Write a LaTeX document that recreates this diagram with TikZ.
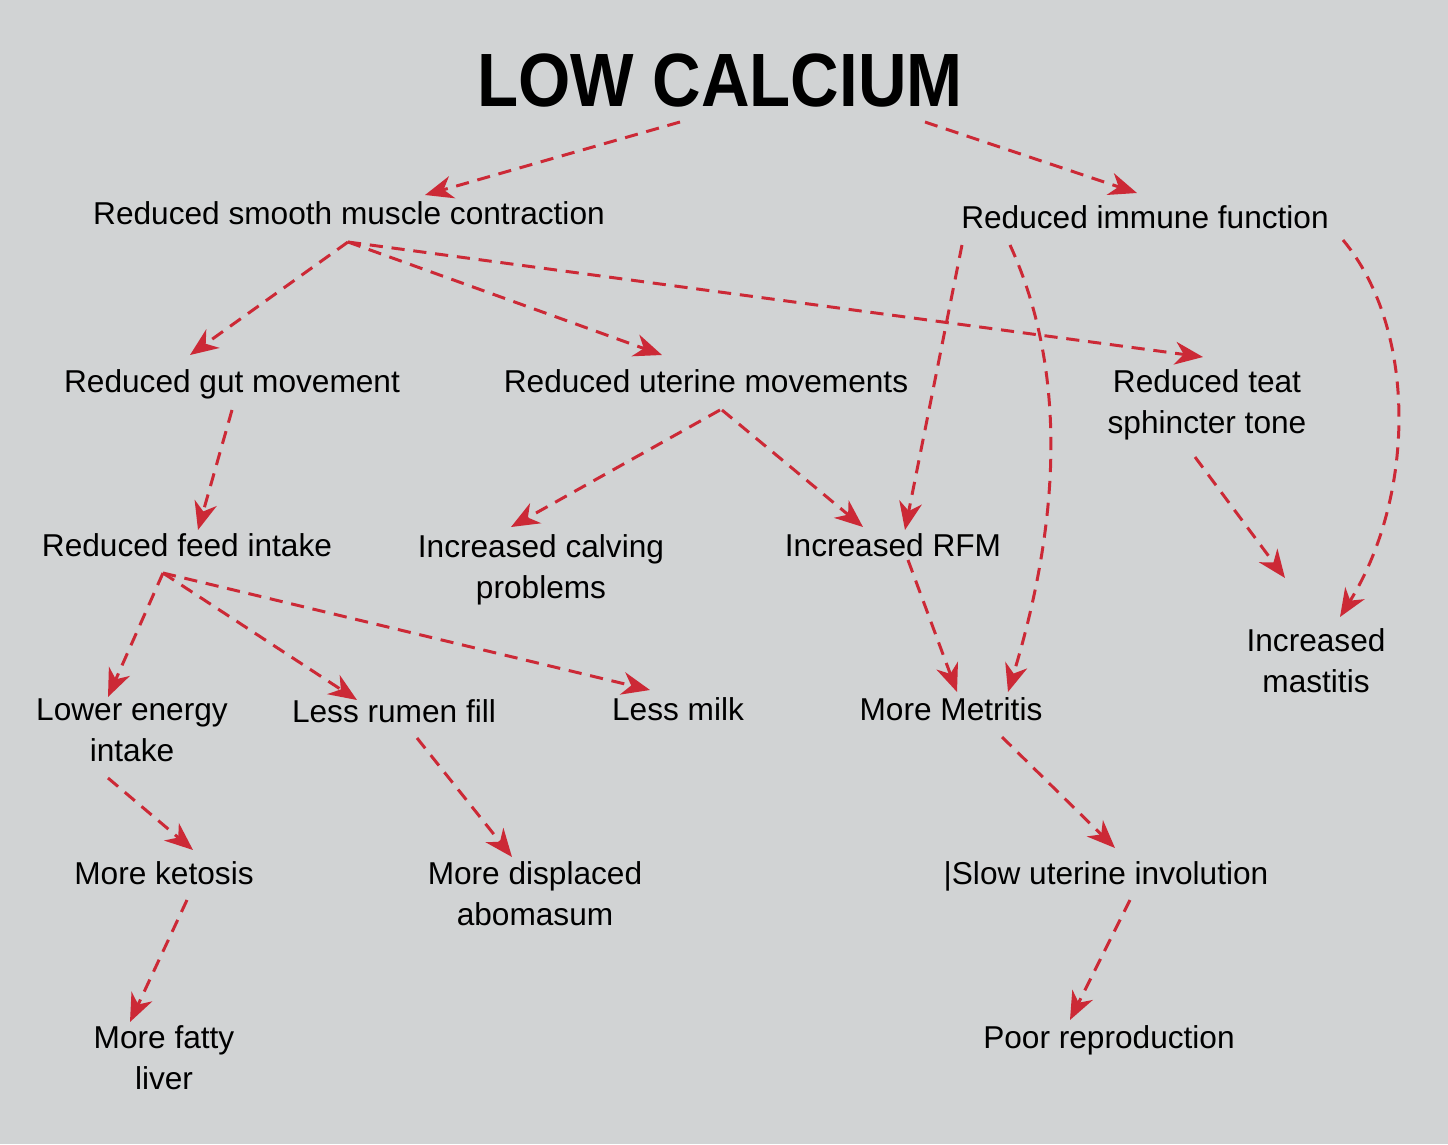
\documentclass[tikz,border=0pt]{standalone}
\usepackage{fontspec}
\setmainfont{Liberation Sans}
\usepackage{graphicx}
\usetikzlibrary{arrows.meta,calc}
\definecolor{bggray}{RGB}{209,211,212}
\definecolor{arrred}{RGB}{204,41,54}

\begin{document}
\begin{tikzpicture}[x=0.02cm,y=-0.02cm,
    lbl/.style={align=center,inner sep=0pt,font=\fontsize{18}{23.2}\selectfont,
      execute at begin node=\strut,execute at end node=\strut},
    arr/.style={-{Stealth[length=16pt,width=13pt,inset=5pt]},arrred,
      line width=1.7pt,dash pattern=on 7.5pt off 5pt}]
  \fill[bggray] (0,0) rectangle (1448,1144);
  \useasboundingbox (0,0) rectangle (1448,1144);
  % title and effects
  \node[inner sep=0pt] (title) at (720,80) {\scalebox{0.89}[1]{\fontsize{43}{50}\selectfont\bfseries LOW CALCIUM}};
  \node[lbl] (smooth) at (349,216) {Reduced smooth muscle contraction};
  \node[lbl] (immune) at (1145,220) {Reduced immune function};
  \node[lbl] (gut) at (232,384) {Reduced gut movement};
  \node[lbl] (uterine) at (706,384) {Reduced uterine movements};
  \node[lbl] (teat) at (1207,408) {Reduced teat\\sphincter tone};
  \node[lbl] (feed) at (187,548) {Reduced feed intake};
  \node[lbl] (calving) at (541,573) {Increased calving\\problems};
  \node[lbl] (rfm) at (893,548) {Increased RFM};
  \node[lbl] (mastitis) at (1316,667) {Increased\\mastitis};
  \node[lbl] (energy) at (132,736) {Lower energy\\intake};
  \node[lbl] (rumen) at (394,714) {Less rumen fill};
  \node[lbl] (milk) at (678,712) {Less milk};
  \node[lbl] (metritis) at (951,712) {More Metritis};
  \node[lbl] (ketosis) at (164,876) {More ketosis};
  \node[lbl] (displaced) at (535,900) {More displaced\\abomasum};
  \node[lbl] (involution) at (1106,876) {|Slow uterine involution};
  \node[lbl] (fatty) at (164,1064) {More fatty\\liver};
  \node[lbl] (poor) at (1109,1040) {Poor reproduction};
  % arrows
  \draw[arr] ($(title.center)+(-40,42)$) -- ($(smooth.center)+(76,-21)$);
  \draw[arr] ($(title.center)+(205,42)$) -- ($(immune.center)+(-8,-27)$);
  \draw[arr] ($(smooth.center)+(-1,26)$) -- ($(gut.center)+(-42,-29)$);
  \draw[arr] ($(smooth.center)+(-1,26)$) -- ($(uterine.center)+(-44,-29)$);
  \draw[arr] ($(smooth.center)+(-1,26)$) -- ($(teat.center)+(-4,-51)$);
  \draw[arr] ($(immune.center)+(-183,25)$) -- ($(rfm.center)+(12,-18)$);
  \draw[arr] ($(immune.center)+(-135,25)$) .. controls +(55,120) and +(55,-180) .. ($(metritis.center)+(57,-20)$);
  \draw[arr] ($(immune.center)+(198,20)$) .. controls +(75,90) and +(75,-120) .. ($(mastitis.center)+(24,-50)$);
  \draw[arr] ($(gut.center)+(0,26)$) -- ($(feed.center)+(11,-18)$);
  \draw[arr] ($(uterine.center)+(14,26)$) -- ($(calving.center)+(-30,-46)$);
  \draw[arr] ($(uterine.center)+(16,26)$) -- ($(rfm.center)+(-30,-21)$);
  \draw[arr] ($(teat.center)+(-12,49)$) -- ($(mastitis.center)+(-31,-89)$);
  \draw[arr] ($(feed.center)+(-24,25)$) -- ($(energy.center)+(-24,-39)$);
  \draw[arr] ($(feed.center)+(-24,25)$) -- ($(rumen.center)+(-37,-14)$);
  \draw[arr] ($(feed.center)+(-24,25)$) -- ($(milk.center)+(-28,-22)$);
  \draw[arr] ($(rfm.center)+(15,12)$) -- ($(metritis.center)+(6,-20)$);
  \draw[arr] ($(energy.center)+(-24,42)$) -- ($(ketosis.center)+(29,-26)$);
  \draw[arr] ($(rumen.center)+(23,24)$) -- ($(displaced.center)+(-23,-43)$);
  \draw[arr] ($(metritis.center)+(51,25)$) -- ($(involution.center)+(9,-28)$);
  \draw[arr] ($(ketosis.center)+(23,24)$) -- ($(fatty.center)+(-34,-42)$);
  \draw[arr] ($(involution.center)+(24,24)$) -- ($(poor.center)+(-39,-20)$);
\end{tikzpicture}
\end{document}
